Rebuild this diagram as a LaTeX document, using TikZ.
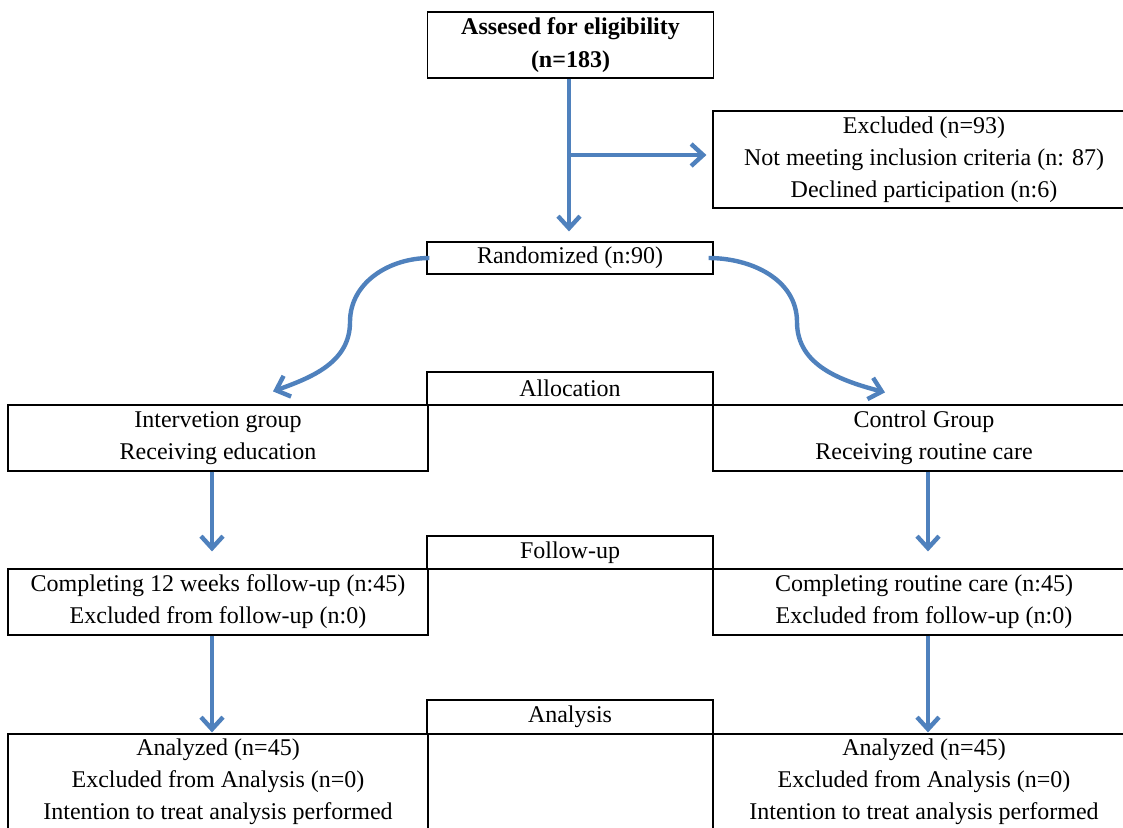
\documentclass[tikz,border=0pt]{standalone}
\usepackage{fontspec}
\setmainfont{Liberation Serif}
\usetikzlibrary{arrows.meta}
\definecolor{flowblue}{HTML}{4F81BD}

\begin{document}
\begin{tikzpicture}[x=0.5pt,y=-0.5pt,
  box/.style={draw,line width=0.6pt,align=center,inner xsep=2pt,inner ysep=1pt,
    font=\fontsize{12}{16}\selectfont},
  midbox/.style={box,minimum width=143pt,minimum height=16.5pt},
  sidebox/.style={box,minimum width=210pt,minimum height=33pt},
  flow/.style={draw=flowblue,line width=2.2pt,-{Straight Barb[length=6pt,width=11pt]}}]
\clip (0,0) rectangle (1123,827);
\fill[white] (0,0) rectangle (1123,827);

\node[midbox,minimum height=33pt,font=\bfseries\fontsize{12}{16.5}\selectfont] (assess) at (570.5,45) {Assesed for eligibility\\(n=183)};
\node[sidebox,minimum width=211pt,minimum height=48.5pt] (excl) at (924,159.5) {Excluded (n=93)\\Not meeting inclusion criteria (n: 87)\\Declined participation (n:6)};
\node[midbox,minimum height=16pt] (rand) at (570,258) {Randomized (n:90)};

\node[midbox] (alloc) at (570,388.5) {Allocation};
\node[sidebox] (interv) at (218,438) {Intervetion group\\Receiving education};
\node[sidebox,minimum width=211pt] (ctrl) at (924,438) {Control Group\\Receiving routine care};

\node[midbox] (follow) at (570,552.5) {Follow-up};
\node[sidebox] (fu1) at (218,602) {Completing 12 weeks follow-up (n:45)\\Excluded from follow-up (n:0)};
\node[sidebox,minimum width=211pt] (fu2) at (924,602) {Completing routine care (n:45)\\Excluded from follow-up (n:0)};

\node[midbox,minimum height=17pt] (analysis) at (570,717) {Analysis};
\node[sidebox,minimum height=48pt] (an1) at (218,782) {Analyzed (n=45)\\Excluded from Analysis (n=0)\\Intention to treat analysis performed};
\node[sidebox,minimum width=211pt,minimum height=48pt] (an2) at (924,782) {Analyzed (n=45)\\Excluded from Analysis (n=0)\\Intention to treat analysis performed};

\coordinate (split) at (569,155);
\draw[flow,shorten >=5pt] ([xshift=-0.75pt]assess.south) -- ([xshift=-0.5pt]rand.north);
\draw[flow,shorten >=3pt] (split) -- (split -| excl.west);

\draw[flow] ([xshift=1.5pt]rand.west) to[out=180,in=90] (350,322) to[out=-90,in=20] ([shift={(55,-13)}]interv.north);
\draw[flow] ([xshift=-2.5pt]rand.east) to[out=0,in=90] (797,322) to[out=-90,in=165] ([shift={(-39,-12)}]ctrl.north);

\draw[flow,shorten >=8.5pt] ([xshift=-3pt]interv.south) -- ([xshift=-3pt]fu1.north);
\draw[flow,shorten >=8.5pt] ([xshift=2pt]ctrl.south) -- ([xshift=2pt]fu2.north);
\draw[flow,shorten >=0.5pt] ([xshift=-3pt]fu1.south) -- ([xshift=-3pt]an1.north);
\draw[flow,shorten >=0.5pt] ([xshift=2pt]fu2.south) -- ([xshift=2pt]an2.north);
\end{tikzpicture}
\end{document}
